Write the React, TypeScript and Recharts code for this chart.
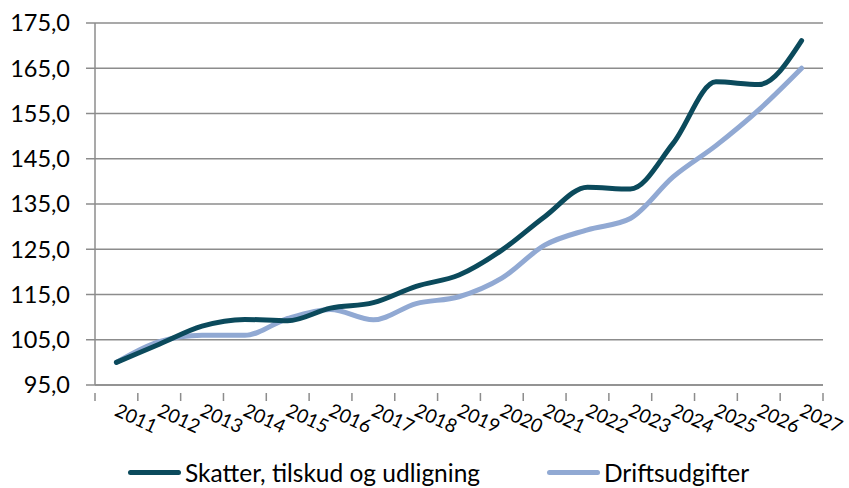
import { LineChart, Line, XAxis, YAxis, CartesianGrid } from "recharts";

const years = [
  "2011", "2012", "2013", "2014", "2015", "2016", "2017", "2018", "2019",
  "2020", "2021", "2022", "2023", "2024", "2025", "2026", "2027",
];
const skatter = [
  100.0, 104.0, 108.0, 109.5, 109.2, 112.0, 113.2, 116.8, 119.3,
  124.8, 132.2, 138.7, 138.3, 148.4, 162.0, 161.4, 171.1,
];
const drift = [
  100.0, 104.6, 106.0, 106.0, 109.7, 111.7, 109.4, 113.0, 114.5,
  118.6, 125.9, 129.3, 131.8, 141.0, 147.9, 155.8, 165.0,
];
const yTicks = [95, 105, 115, 125, 135, 145, 155, 165, 175];

const DARK = "#0b4a5c";
const LIGHT = "#91a9d3";
const GRID = "#8c8c8c";
const FONT = "Lato, 'Open Sans', sans-serif";

const data = years.map((y, i) => ({ year: y, skatter: skatter[i], drift: drift[i] }));

const fmt = (v: number) => v.toFixed(1).replace(".", ",");

// half a category band on each side, like Excel's "between tick marks"
const HALF_BAND = 728 / years.length / 2;

// category ticks sit in the band centre; Excel draws tick marks on band edges
function YearTick(props: any) {
  const { x, y, payload, index } = props;
  const left = x - HALF_BAND;
  return (
    <g>
      <line x1={left} y1={y} x2={left} y2={y + 8} stroke={GRID} strokeWidth={1.5} />
      {index === years.length - 1 && (
        <line x1={x + HALF_BAND} y1={y} x2={x + HALF_BAND} y2={y + 8} stroke={GRID} strokeWidth={1.5} />
      )}
      <text
        x={x - 3}
        y={y + 22}
        transform={`rotate(25, ${x - 3}, ${y + 22})`}
        textAnchor="start"
        fontSize={19}
        fill="#000"
        fontFamily={FONT}
      >
        {payload.value}
      </text>
    </g>
  );
}

function LegendItem({ color, label, left, width }: { color: string; label: string; left: number; width: number }) {
  return (
    <div style={{ position: "absolute", left, top: 458, display: "flex", alignItems: "center", width }}>
      <div style={{ width: 53, height: 5, borderRadius: 3, background: color, marginRight: 4 }} />
      <span style={{ fontFamily: FONT, fontSize: 24.5, color: "#000", whiteSpace: "nowrap" }}>{label}</span>
    </div>
  );
}

export default function App() {
  return (
    <div style={{ position: "absolute", left: 0, top: 0, width: 849, height: 488, background: "#fff" }}>
      <LineChart
        width={849}
        height={440}
        data={data}
        margin={{ top: 23, right: 26, left: 0, bottom: 0 }}
      >
        <CartesianGrid vertical={false} stroke={GRID} strokeWidth={1.5} />
        <XAxis
          dataKey="year"
          height={55}
          interval={0}
          padding={{ left: HALF_BAND, right: HALF_BAND }}
          axisLine={{ stroke: GRID, strokeWidth: 1.5 }}
          tickLine={false}
          tick={<YearTick />}
        />
        <YAxis
          width={95}
          domain={[95, 175]}
          ticks={yTicks}
          interval={0}
          tickFormatter={fmt}
          axisLine={{ stroke: GRID, strokeWidth: 1.5 }}
          tickLine={{ stroke: GRID, strokeWidth: 1.5 }}
          tickSize={9}
          tickMargin={16}
          tick={{ fill: "#000", fontSize: 23.5, fontFamily: FONT }}
        />
        <Line
          type="monotone"
          dataKey="drift"
          stroke={LIGHT}
          strokeWidth={5}
          dot={false}
          strokeLinecap="round"
          isAnimationActive={false}
        />
        <Line
          type="monotone"
          dataKey="skatter"
          stroke={DARK}
          strokeWidth={5}
          dot={false}
          strokeLinecap="round"
          isAnimationActive={false}
        />
      </LineChart>
      <LegendItem color={DARK} label="Skatter, tilskud og udligning" left={128} width={400} />
      <LegendItem color={LIGHT} label="Driftsudgifter" left={547} width={260} />
    </div>
  );
}
